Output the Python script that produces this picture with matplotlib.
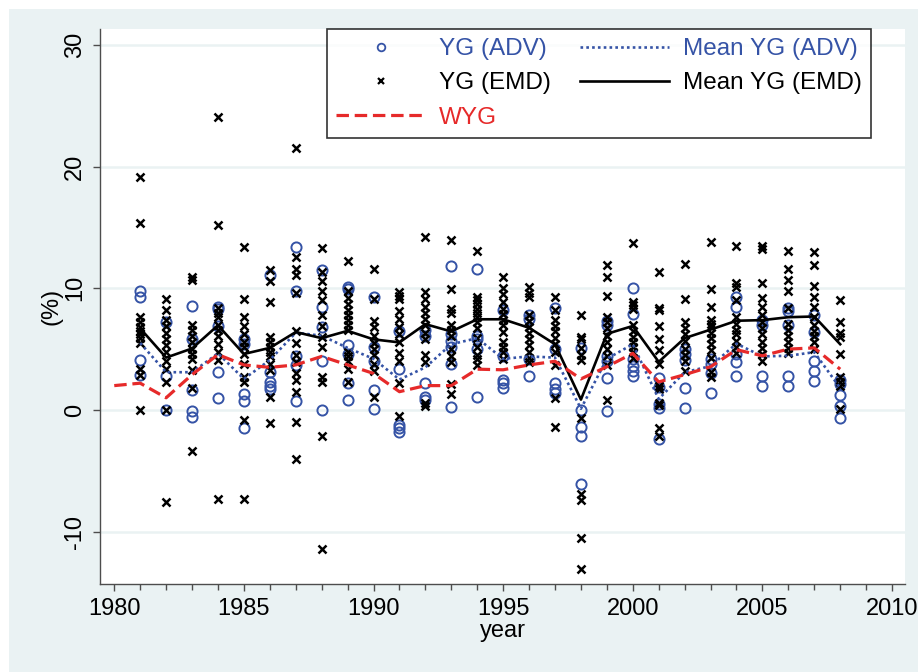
import matplotlib
matplotlib.use('Agg')
import matplotlib.pyplot as plt
from matplotlib.patches import Rectangle
from matplotlib.lines import Line2D
from matplotlib.ticker import MultipleLocator

plt.rcParams['font.family'] = ['Liberation Sans', 'DejaVu Sans']

# yield gaps (%) by year
years = list(range(1981, 2009))

yg_adv = [
    [9.8, 9.3, 4.1, 2.9],
    [7.2, 2.8, 0.0],
    [8.55, 5.8, 1.6, -0.1, -0.55],
    [8.5, 8.3, 6.9, 3.1, 1.0],
    [5.8, 5.4, 1.3, 0.7, -1.5],
    [11.1, 3.1, 2.3, 2.0, 1.7],
    [13.4, 9.8, 4.4, 3.7, 0.7],
    [11.5, 8.5, 6.8, 4.0, 0.0],
    [10.1, 9.9, 5.3, 4.6, 2.2, 0.85],
    [9.3, 5.2, 4.0, 1.6, 0.1],
    [6.5, 3.4, -1.2, -1.5, -1.8],
    [6.6, 6.1, 2.2, 1.1, 0.8],
    [11.8, 6.2, 5.7, 5.2, 3.8, 0.25],
    [11.6, 6.1, 5.8, 5.0, 1.1],
    [8.2, 4.4, 2.5, 2.2, 1.8],
    [7.8, 7.5, 4.2, 2.8],
    [8.4, 5.0, 2.2, 1.7, 1.4],
    [5.1, 0.0, -1.4, -2.1, -6.1],
    [7.3, 7.0, 4.4, 4.0, 2.6, -0.1],
    [10.0, 7.9, 4.2, 3.6, 3.2, 2.8],
    [2.6, 1.9, 0.5, 0.2, -2.35],
    [5.0, 4.6, 4.1, 1.8, 0.2],
    [4.2, 3.8, 3.0, 1.4],
    [9.3, 8.5, 4.6, 3.9, 2.8],
    [7.4, 7.0, 2.8, 2.0],
    [8.4, 8.1, 7.0, 2.8, 2.0],
    [7.8, 6.4, 4.0, 3.2, 2.4],
    [2.5, 2.1, 1.2, 0.3, -0.65],
]

yg_emd = [
    [19.1, 15.4, 7.6, 7.2, 6.8, 6.5, 6.2, 5.9, 5.5, 3.4, 2.9, 0.0],
    [9.1, 8.2, 7.4, 6.9, 6.3, 5.8, 5.3, 4.8, 4.0, 3.4, 2.3, 0.0, -7.6],
    [10.9, 10.7, 7.0, 6.6, 6.1, 5.6, 5.0, 4.6, 4.2, 3.3, 1.8, -3.4],
    [24.1, 15.2, 8.4, 8.0, 7.6, 7.0, 6.6, 6.1, 5.4, 4.8, 4.1, -7.3],
    [13.4, 9.1, 7.6, 6.9, 6.2, 5.6, 5.2, 4.6, 3.8, 2.7, 2.3, -0.8, -7.3],
    [11.5, 10.6, 8.9, 6.0, 5.6, 5.2, 4.8, 4.4, 3.8, 3.3, 1.1, -1.1],
    [21.5, 12.6, 11.6, 11.1, 9.6, 6.5, 5.5, 4.5, 3.9, 3.0, 2.5, 1.5, -1.0, -4.0],
    [13.3, 11.3, 10.6, 9.8, 9.0, 7.8, 6.9, 6.0, 5.2, 2.7, 2.3, -2.1, -11.4],
    [12.2, 9.8, 9.2, 8.7, 8.2, 7.8, 7.4, 7.0, 6.6, 4.8, 4.4, 4.0, 3.4, 2.3],
    [11.6, 9.1, 7.3, 6.8, 6.1, 5.5, 5.0, 4.5, 3.8, 3.2, 1.1],
    [9.7, 9.4, 9.1, 8.1, 7.5, 6.8, 6.2, 5.6, 4.7, 4.0, 2.2, -0.5],
    [14.2, 9.7, 9.1, 8.5, 8.0, 7.5, 7.0, 6.3, 5.8, 4.5, 3.9, 0.6, 0.3],
    [14.0, 9.9, 8.3, 8.0, 7.0, 6.6, 6.1, 5.0, 4.4, 3.9, 2.1, 1.3],
    [13.1, 9.3, 9.0, 8.7, 8.3, 8.0, 7.6, 7.2, 6.7, 5.9, 5.2, 4.5, 4.2, 3.7],
    [10.95, 10.0, 9.5, 8.9, 8.3, 7.9, 7.4, 7.0, 6.4, 5.6, 5.2, 4.8, 4.2],
    [10.1, 9.6, 9.3, 7.8, 7.3, 6.8, 6.3, 5.8, 5.3, 4.8, 4.3, 3.9],
    [9.3, 8.2, 7.4, 6.9, 6.5, 5.9, 5.4, 4.8, 3.7, 1.0, -1.4],
    [7.8, 6.0, 5.8, 5.1, 4.5, 4.1, -0.7, -6.9, -7.4, -10.5, -13.1],
    [11.9, 10.9, 9.4, 7.6, 7.2, 6.7, 6.1, 5.6, 5.0, 4.4, 3.7, 0.8],
    [13.7, 8.9, 8.6, 8.3, 7.0, 6.5, 6.0, 5.6, 5.2, 4.8, 4.3],
    [11.3, 8.4, 8.2, 6.9, 5.8, 4.9, 3.8, 2.0, 1.7, 0.6, 0.4, -1.5, -2.1],
    [12.0, 9.1, 7.2, 6.7, 6.2, 5.7, 5.0, 4.5, 4.0, 3.2],
    [13.8, 9.9, 8.5, 7.4, 7.1, 6.8, 6.3, 5.9, 5.4, 4.9, 4.3, 3.1, 2.7],
    [13.5, 10.4, 10.1, 9.0, 7.6, 7.1, 6.6, 6.2, 5.7, 5.2, 4.7],
    [13.5, 13.2, 10.4, 9.2, 8.5, 7.8, 7.2, 6.7, 6.2, 5.6, 5.1, 4.6, 4.0],
    [13.1, 11.6, 10.7, 9.8, 8.4, 7.1, 6.6, 6.1, 5.6, 5.1, 4.7],
    [13.0, 11.9, 10.2, 9.3, 8.5, 7.6, 7.0, 6.5, 6.1, 5.6, 5.0],
    [9.0, 7.25, 6.3, 6.0, 4.6, 2.7, 2.3, 2.0, 0.05],
]

mean_adv = [5.5, 3.1, 3.1, 4.65, 2.55, 4.1, 6.35, 6.1, 5.1, 4.2, 2.5, 3.5, 5.4, 5.9,
            4.2, 4.4, 4.3, 0.1, 4.2, 5.4, 0.9, 3.1, 3.6, 5.45, 4.4, 4.45, 4.75, 1.8]
mean_emd = [6.7, 4.3, 5.05, 6.95, 4.6, 5.1, 6.4, 5.9, 6.5, 5.8, 5.55, 7.05, 6.45, 7.45,
            7.45, 6.75, 5.4, 0.85, 6.25, 6.9, 3.95, 5.9, 6.6, 7.33, 7.38, 7.62, 7.68, 5.4]

wyg_years = list(range(1980, 2009))
wyg = [2.0, 2.2, 1.0, 2.9, 4.55, 3.7, 3.5, 3.7, 4.4, 3.7, 3.0, 1.5, 2.0, 2.0, 3.35,
       3.3, 3.7, 4.0, 2.55, 3.55, 4.65, 2.3, 2.9, 3.55, 4.95, 4.45, 5.0, 5.1, 3.35]

BLUE = '#3553A6'
RED = '#E62A2A'
BG = '#EAF2F3'
AXC = '#4D4D4D'
FS = 17

W, H = 918, 672
fig = plt.figure(figsize=(W / 100, H / 100), dpi=100)
fig.patch.set_facecolor('white')
fig.add_artist(Rectangle((9 / W, 0), 1 - 9 / W, 1 - 9 / H, transform=fig.transFigure,
                         facecolor=BG, edgecolor='none', zorder=0))

ax = fig.add_axes([100 / W, 1 - 584 / H, 805 / W, 555 / H])
ax.set_facecolor('white')

# flatten the per-year lists
adv_x = [y for y, vals in zip(years, yg_adv) for _ in vals]
adv_y = [v for vals in yg_adv for v in vals]
emd_x = [y for y, vals in zip(years, yg_emd) for _ in vals]
emd_y = [v for vals in yg_emd for v in vals]

for g in [-10, 0, 10, 20, 30]:
    ax.axhline(g, color=BG, lw=1.8, zorder=0.5)

ax.plot(adv_x, adv_y, ls='none', marker='o', ms=7.3, mfc='none', mec=BLUE, mew=1.4, zorder=2)
ax.plot(emd_x, emd_y, ls='none', marker='x', ms=5.2, mec='black', mew=1.8, zorder=3)
ax.plot(years, mean_adv, color=BLUE, lw=1.9, ls=(0, (1, 1.2)), zorder=4)
ax.plot(years, mean_emd, color='black', lw=1.9, zorder=5)
ax.plot(wyg_years, wyg, color=RED, lw=2.3, ls=(0, (3.9, 1.8)), zorder=6)

ax.set_xlim(1979.45, 2010.5)
ax.set_ylim(-14.3, 31.3)
ax.set_xticks(range(1980, 2011, 5))
ax.xaxis.set_minor_locator(MultipleLocator(1))
ax.set_yticks([-10, 0, 10, 20, 30])
ax.set_yticklabels(['-10', '0', '10', '20', '30'], rotation=90, va='center')

for s in ['top', 'right']:
    ax.spines[s].set_visible(False)
for s in ['left', 'bottom']:
    ax.spines[s].set_color(AXC)
    ax.spines[s].set_linewidth(1.0)
ax.tick_params(axis='both', which='major', length=5, width=1.0, color=AXC,
               labelsize=FS, labelcolor='black')
ax.tick_params(axis='x', which='minor', length=4, width=1.0, color=AXC)
ax.tick_params(axis='x', which='major', pad=5)
ax.tick_params(axis='y', which='major', pad=5)

ax.set_xlabel('year', fontsize=FS, labelpad=0)
ax.set_ylabel('(%)', fontsize=FS, labelpad=1)

handles = [
    Line2D([], [], ls='none', marker='o', ms=5.5, mfc='none', mec=BLUE, mew=1.3),
    Line2D([], [], ls='none', marker='x', ms=4.2, mec='black', mew=1.6),
    Line2D([], [], color=RED, lw=2.3, ls=(0, (3.9, 1.8))),
    Line2D([], [], color=BLUE, lw=1.9, ls=(0, (1, 1.2))),
    Line2D([], [], color='black', lw=1.9),
]
labels = ['YG (ADV)', 'YG (EMD)', 'WYG', 'Mean YG (ADV)', 'Mean YG (EMD)']
leg = ax.legend(handles, labels, ncol=2, loc='upper left',
                bbox_to_anchor=(326.7 / W, 1 - 29 / H), bbox_transform=fig.transFigure,
                frameon=True, fancybox=False, fontsize=17.5, handlelength=3.7,
                handletextpad=0.55, columnspacing=1.17, labelspacing=0.5,
                borderpad=0.38, borderaxespad=0,
                labelcolor=[BLUE, 'black', RED, BLUE, 'black'])
leg.get_frame().set_edgecolor('black')
leg.get_frame().set_linewidth(1.2)
leg.set_zorder(10)

fig.savefig('out.png', dpi=100, facecolor=fig.get_facecolor())
